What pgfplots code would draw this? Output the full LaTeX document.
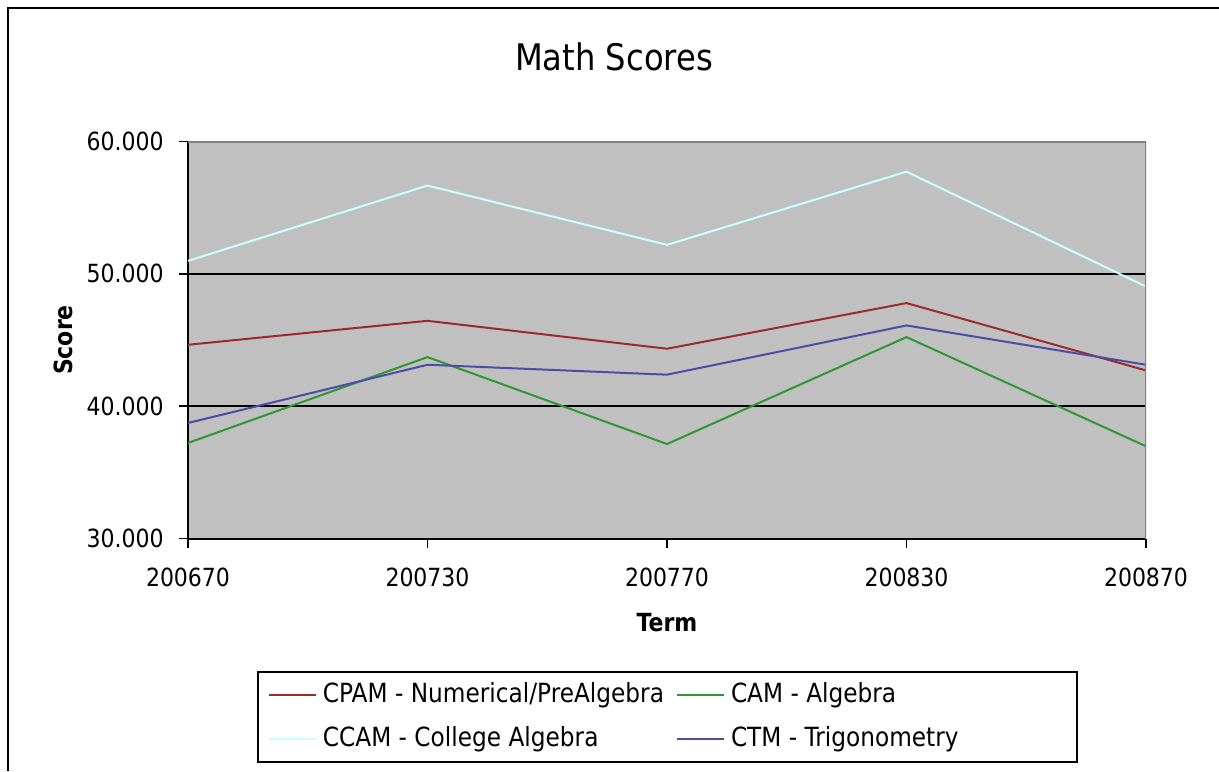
\documentclass[border=0pt]{standalone}
\usepackage{fontspec}
\setmainfont{DejaVu Sans}[FakeStretch=0.88]
\usepackage{pgfplots}
\pgfplotsset{compat=1.18}
\definecolor{plotgray}{HTML}{C0C0C0}
\definecolor{edgegray}{HTML}{808080}
\definecolor{cpam}{HTML}{9C2A2A}
\definecolor{cam}{HTML}{2E9632}
\definecolor{ccam}{HTML}{CCFFFF}
\definecolor{ctm}{HTML}{4C4CA8}

\begin{document}
\begin{tikzpicture}[font=\fontsize{12.5}{15}\selectfont]
% outer chart frame (cut off on the right and bottom)
\draw[line width=1pt] (3.75pt,-385.5pt) -- (3.75pt,-3.75pt) -- (609.5pt,-3.75pt);
\begin{axis}[
    at={(94pt,-269.25pt)}, anchor=south west,
    width=479pt, height=198.5pt, scale only axis,
    xmin=0, xmax=4, ymin=30, ymax=60,
    xtick={0,1,2,3,4},
    xticklabels={200670,200730,200770,200830,200870},
    ytick={30,40,50,60},
    axis lines=left,
    axis line style={-, line width=1pt, black},
    axis background/.style={fill=plotgray},
    tick align=outside,
    major tick length=4.5pt,
    tick style={black, line width=0.8pt},
    ymajorgrids,
    grid style={black, line width=1pt},
    /pgf/number format/assume math mode=true,
    yticklabel={\pgfmathprintnumber[fixed,fixed zerofill,precision=3]{\tick}},
    yticklabel style={anchor=east, inner sep=0pt, xshift=-7.5pt},
    xticklabel style={anchor=north, inner sep=0pt, yshift=-10pt},
    title={Math Scores},
    title style={at={(axis description cs:0.4447,1.1826)}, anchor=center,
        yshift=0pt, font=\fontsize{18.3}{21}\selectfont},
    xlabel={\bfseries Term},
    xlabel style={at={(axis description cs:0.5,-0.2128)}, anchor=center},
    ylabel={\bfseries Score},
    ylabel style={at={(axis description cs:-0.1305,0.5)}, anchor=center},
    legend columns=2,
    legend style={at={(axis description cs:0.072,-0.3338)}, anchor=north west,
        draw=black, line width=1pt, inner xsep=5pt, inner ysep=5.5pt,
        row sep=10pt, font=\fontsize{13.2}{15}\selectfont,
        nodes={inner sep=0pt, text height=9.5pt, text depth=2.5pt, anchor=west}},
    legend cell align=left,
    /tikz/every odd column/.append style={column sep=3pt},
    /tikz/every even column/.append style={column sep=6pt},
    legend image code/.code={\draw[#1, line width=1pt] (0pt,0pt) -- (23.5pt,0pt);},
]
\addplot[cpam, line width=1pt] coordinates {(0,44.64) (1,46.45) (2,44.34) (3,47.79) (4,42.70)};
\addlegendentry{CPAM - Numerical/PreAlgebra}
\addplot[cam, line width=1pt] coordinates {(0,37.22) (1,43.71) (2,37.14) (3,45.22) (4,36.97)};
\addlegendentry{\makebox[168pt][l]{CAM - Algebra}}
\addplot[ccam, line width=1pt] coordinates {(0,50.98) (1,56.67) (2,52.19) (3,57.72) (4,49.04)};
\addlegendentry{CCAM - College Algebra}
\addplot[ctm, line width=1pt] coordinates {(0,38.73) (1,43.13) (2,42.38) (3,46.10) (4,43.13)};
\addlegendentry{CTM - Trigonometry}
\draw[edgegray, line width=1pt] (rel axis cs:0,1) -- (rel axis cs:1,1) -- (rel axis cs:1,0);
\end{axis}
\pgfresetboundingbox
\path (0pt,0pt) rectangle (609.5pt,-385.5pt);
\end{tikzpicture}
\end{document}
